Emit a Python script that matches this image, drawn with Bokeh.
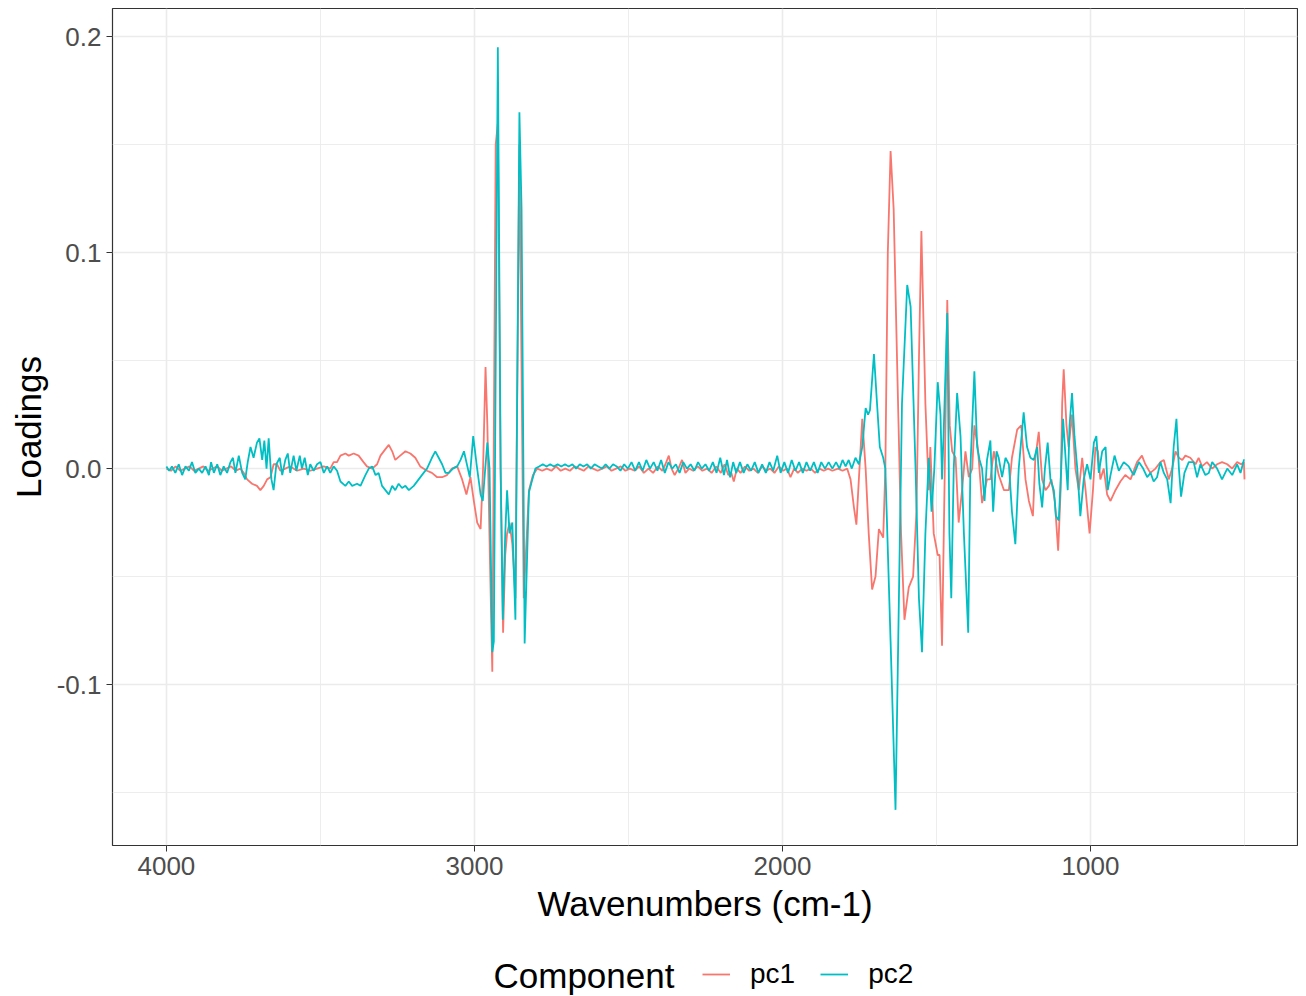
from bokeh.plotting import figure
from bokeh.models import Range1d, FixedTicker, PrintfTickFormatter, Legend, LegendItem, Label
from bokeh.layouts import column
from bokeh.embed import file_html
from bokeh.resources import INLINE

pc2_wn = [4000, 3991, 3982, 3971, 3960, 3949, 3938, 3927, 3917, 3906, 3895, 3884, 3873, 3862, 3855, 3846,
          3835, 3825, 3814, 3803, 3792, 3784, 3776, 3765, 3754, 3744, 3736, 3727, 3717, 3706, 3698, 3689,
          3682, 3675, 3668, 3659, 3652, 3643, 3632, 3624, 3614, 3606, 3598, 3587, 3578, 3567, 3560, 3551,
          3541, 3533, 3522, 3511, 3500, 3489, 3478, 3468, 3457, 3446, 3435, 3419, 3408, 3397, 3381, 3370,
          3354, 3343, 3332, 3321, 3311, 3300, 3289, 3278, 3267, 3257, 3246, 3235, 3224, 3213, 3197, 3181,
          3165, 3154, 3138, 3127, 3116, 3105, 3094, 3083, 3070, 3056, 3045, 3034, 3023, 3015, 3004, 2993,
          2980, 2973, 2965, 2958, 2951, 2942, 2937, 2924, 2915, 2908, 2900, 2894, 2886, 2877, 2867, 2854,
          2847, 2837, 2823, 2812, 2802, 2790,
          2778, 2766, 2754, 2742, 2730, 2718, 2706, 2694, 2682, 2670, 2658, 2646, 2634, 2622, 2610, 2598,
          2586, 2574, 2562, 2550, 2538, 2526, 2514, 2502, 2490, 2478, 2466, 2454, 2442, 2430, 2418, 2406,
          2394, 2382, 2370, 2358, 2346, 2334, 2322, 2310, 2298, 2286, 2274, 2262, 2250, 2238, 2226, 2214,
          2202, 2190, 2180, 2170, 2160, 2150, 2138, 2126, 2114, 2102, 2090, 2078, 2066, 2054, 2042, 2030,
          2017, 2006, 1994, 1982, 1970, 1958, 1946, 1934, 1922, 1910, 1898, 1886, 1874, 1862, 1850,
          1838, 1826, 1815, 1805, 1795, 1785, 1775, 1763, 1752, 1741, 1730, 1722, 1716, 1703, 1693, 1684,
          1673, 1666, 1649, 1633, 1622, 1612, 1595, 1584, 1568, 1557, 1547, 1536, 1525, 1516, 1507, 1496,
          1487, 1482, 1476, 1465, 1458, 1452, 1444, 1433, 1422, 1411, 1397, 1390, 1377, 1368, 1360, 1352,
          1344, 1336, 1325, 1316, 1305, 1298, 1287, 1276, 1265, 1255, 1244, 1233, 1217, 1206, 1195, 1184,
          1173, 1166, 1157, 1148, 1139, 1130, 1119, 1112, 1103, 1095, 1089, 1081, 1074, 1068, 1060, 1052,
          1043, 1033, 1022, 1011, 1000, 989, 981, 973, 962, 951, 944, 935, 922, 908, 892, 876,
          860, 843, 829, 816, 805, 795, 784, 773, 762, 751, 740, 730, 721, 713, 706, 695,
          681, 665, 654, 643, 627, 616, 605, 589, 573, 556, 540, 524, 513, 502, 500]
pc2_val = [0.001, -0.001, 0.001, -0.002, 0.002, -0.003, 0.001, -0.001, 0.003, -0.002, 0.000, -0.002, 0.001, -0.003, 0.003, -0.002,
           0.002, -0.003, 0.001, -0.002, 0.003, 0.005, -0.002, 0.006, -0.002, -0.005, 0.003, 0.010, 0.005, 0.012, 0.014, 0.004,
           0.013, 0.000, 0.014, -0.005, -0.010, 0.002, 0.005, -0.003, 0.004, 0.007, -0.002, 0.006, -0.001, 0.006, 0.000, 0.005,
           -0.003, 0.002, -0.001, 0.002, 0.003, -0.002, 0.001, -0.002, 0.001, -0.001, -0.006, -0.008, -0.006, -0.008, -0.007, -0.008,
           -0.003, 0.000, 0.001, -0.003, -0.002, -0.008, -0.010, -0.012, -0.008, -0.010, -0.007, -0.009, -0.008, -0.010, -0.008, -0.005,
           -0.002, 0.000, 0.005, 0.008, 0.005, 0.002, -0.002, -0.002, 0.000, 0.001, 0.004, 0.008, 0.001, -0.004, 0.015, 0.002,
           -0.012, -0.015, 0.000, 0.012, 0.000, -0.085, -0.080, 0.195, 0.000, -0.070, -0.030, -0.010, -0.030, -0.025, -0.070, 0.165,
           0.120, -0.081, -0.011, -0.005, 0.000, 0.001,
           0.002, 0.001, 0.002, 0.001, 0.002, 0.001, 0.002, 0.001, 0.002, 0.000, 0.002, 0.001, 0.002, 0.000, 0.002, 0.001,
           0.000, 0.002, 0.000, 0.002, 0.001, -0.001, 0.002, 0.000, 0.003, -0.001, 0.003, -0.001, 0.004, 0.000, 0.003, -0.001,
           0.004, -0.002, 0.003, 0.000, 0.002, -0.002, 0.003, 0.000, 0.002, -0.001, 0.003, 0.000, 0.002, -0.001, 0.003, -0.002,
           0.005, -0.003, 0.004, -0.004, 0.003, -0.002, 0.003, -0.002, 0.002, -0.001, 0.003, -0.002, 0.002, -0.002, 0.003, -0.001,
           0.006, -0.002, 0.003, -0.002, 0.004, -0.001, 0.003, -0.002, 0.003, -0.001, 0.003, -0.002, 0.003, 0.000, 0.003,
           0.000, 0.003, 0.000, 0.004, 0.001, 0.004, 0.000, 0.005, 0.002, 0.010, 0.028, 0.025, 0.027, 0.053, 0.030, 0.010,
           0.005, 0.000, -0.080, -0.158, -0.060, 0.030, 0.085, 0.075, 0.000, -0.060, -0.085, -0.030, 0.005, -0.020, 0.000, 0.040,
           0.025, -0.005, 0.020, 0.072, -0.030, -0.060, 0.000, 0.035, 0.015, -0.030, -0.076, 0.000, 0.045, 0.010, 0.004, 0.000,
           -0.015, 0.004, 0.013, -0.020, 0.008, 0.005, -0.004, 0.005, 0.002, -0.020, -0.035, 0.000, 0.026, 0.010, 0.005, 0.004,
           0.010, -0.007, -0.018, 0.000, 0.012, -0.005, -0.010, -0.022, -0.024, 0.000, 0.023, 0.005, -0.010, 0.020, 0.035, 0.015,
           0.000, -0.022, -0.005, 0.002, -0.005, 0.012, 0.015, -0.002, 0.008, 0.010, -0.010, -0.003, 0.006, -0.001, 0.003, 0.001,
           -0.003, 0.003, 0.000, -0.004, -0.002, -0.006, -0.004, 0.003, -0.002, -0.005, -0.016, 0.010, 0.023, 0.000, -0.013, -0.002,
           0.003, 0.003, -0.004, 0.002, -0.003, -0.002, 0.003, 0.000, -0.005, 0.000, -0.003, 0.002, -0.002, 0.004, 0.004]

pc1_wn = [4000, 3985, 3970, 3955, 3940, 3925, 3910, 3895, 3880, 3865, 3850, 3835, 3820, 3805, 3790, 3775,
          3760, 3749, 3738, 3722, 3706, 3695, 3684, 3673, 3662, 3652, 3641, 3630, 3614, 3598, 3576, 3554,
          3533, 3511, 3489, 3468, 3457, 3446, 3435, 3419, 3408, 3392, 3376, 3360, 3349, 3332, 3316, 3305,
          3289, 3278, 3267, 3257, 3241, 3224, 3208, 3192, 3176, 3154, 3138, 3121, 3105, 3089, 3073, 3056,
          3040, 3026, 3013, 3002, 2991, 2980, 2972, 2964, 2958, 2950, 2942, 2931, 2924, 2915, 2907, 2900,
          2894, 2886, 2877, 2867, 2854, 2840, 2823, 2810, 2796,
          2780, 2765, 2750, 2735, 2720, 2705, 2690, 2675, 2660, 2645, 2630, 2615, 2600, 2585, 2570, 2555,
          2540, 2525, 2510, 2495, 2480, 2465, 2450, 2435, 2420, 2405, 2390, 2380, 2369, 2360, 2350, 2338,
          2326, 2315, 2303, 2290, 2275, 2260, 2245, 2230, 2215, 2200, 2188, 2176, 2166, 2158, 2148, 2136,
          2122, 2108, 2094, 2080, 2066, 2052, 2040, 2026, 2012, 1998, 1985, 1974, 1962, 1950, 1936, 1922,
          1908, 1894, 1880, 1866, 1852, 1838, 1820, 1805, 1790, 1779, 1768, 1760, 1752, 1741, 1730, 1720,
          1709, 1698, 1687, 1673, 1666, 1658, 1649, 1639, 1628, 1615, 1604, 1590, 1576, 1565, 1557, 1549,
          1536, 1525, 1520, 1509, 1496, 1490, 1482, 1473, 1465, 1457, 1449, 1438, 1428, 1417, 1406, 1395,
          1384, 1377, 1366, 1352, 1336, 1325, 1314, 1298, 1281, 1265, 1255, 1238, 1225, 1211, 1200, 1187,
          1179, 1168, 1157, 1146, 1135, 1127, 1116, 1105, 1097, 1092, 1087, 1078, 1071, 1060, 1049, 1038,
          1027, 1016, 1003, 992, 984, 976, 968, 957, 946, 935, 919, 903, 887, 870, 849, 833,
          822, 806, 789, 773, 762, 746, 735, 724, 713, 702, 692, 676, 659, 649, 638, 622,
          605, 589, 573, 556, 540, 524, 511, 502, 500]
pc1_val = [0.000, -0.001, 0.001, -0.001, 0.000, 0.001, -0.001, 0.000, 0.001, -0.001, 0.000, 0.001, -0.001, 0.000, 0.001, -0.001,
           0.000, -0.002, -0.005, -0.007, -0.008, -0.010, -0.008, -0.005, -0.004, 0.002, 0.002, -0.001, 0.000, 0.001, -0.001, 0.000,
           -0.001, 0.000, 0.001, 0.000, 0.003, 0.003, 0.006, 0.007, 0.006, 0.007, 0.006, 0.003, 0.001, 0.000, 0.002, 0.006,
           0.009, 0.011, 0.008, 0.004, 0.006, 0.008, 0.007, 0.005, 0.001, -0.001, -0.002, -0.004, -0.004, -0.003, 0.000, 0.001,
           -0.005, -0.012, -0.004, -0.015, -0.025, -0.028, 0.000, 0.047, 0.020, -0.040, -0.094, 0.150, 0.160, 0.000, -0.076, -0.040,
           -0.030, -0.025, -0.035, -0.060, 0.150, -0.060, -0.010, -0.003, 0.000,
           -0.001, 0.000, -0.001, 0.001, -0.001, 0.000, -0.001, 0.001, 0.000, -0.001, 0.001, 0.000, -0.001, 0.000, 0.001, -0.001,
           0.000, 0.001, -0.001, 0.000, -0.001, 0.001, -0.002, 0.000, -0.002, 0.001, -0.001, 0.002, 0.006, 0.000, -0.003, 0.000,
           0.004, -0.002, 0.000, -0.001, 0.001, -0.001, 0.000, -0.002, 0.001, -0.002, 0.002, -0.003, -0.002, -0.006, 0.000, -0.002,
           0.001, -0.001, 0.000, -0.002, 0.001, -0.001, 0.000, -0.002, 0.001, -0.001, 0.000, -0.004, 0.000, -0.002, 0.000, -0.001,
           0.000, -0.002, 0.000, -0.001, 0.000, -0.001, 0.000, -0.001, 0.000, -0.005, -0.018, -0.026, -0.005, 0.023, 0.000, -0.030,
           -0.056, -0.050, -0.028, -0.032, 0.000, 0.100, 0.147, 0.120, 0.050, -0.030, -0.070, -0.055, -0.050, -0.020, 0.050, 0.110,
           0.030, -0.010, 0.010, -0.030, -0.040, -0.040, -0.082, 0.000, 0.078, 0.020, 0.008, 0.005, -0.025, -0.010, 0.008, -0.004,
           0.000, 0.020, 0.010, -0.016, -0.005, -0.005, 0.008, -0.003, -0.010, -0.010, 0.005, 0.018, 0.020, -0.005, -0.015, -0.022,
           0.005, 0.017, -0.005, -0.010, -0.008, -0.005, -0.015, -0.038, -0.010, 0.030, 0.046, 0.020, 0.010, 0.025, 0.000, -0.010,
           0.005, -0.010, -0.030, -0.010, 0.010, 0.008, -0.005, 0.000, -0.012, -0.015, -0.010, -0.006, -0.003, -0.005, 0.003, 0.006,
           0.002, -0.002, 0.000, 0.003, 0.004, -0.005, 0.000, 0.008, 0.005, 0.004, 0.006, 0.005, 0.002, 0.005, 0.001, 0.003,
           0.000, 0.002, 0.003, 0.002, 0.000, 0.003, 0.002, 0.003, -0.005]

x_ticks = [4000, 3000, 2000, 1000]
x_minor = [3500, 2500, 1500, 500]
y_ticks = [-0.1, 0.0, 0.1, 0.2]
y_minor = [-0.15, -0.05, 0.05, 0.15]
series_names = ["pc1", "pc2"]
series_colors = ["#F8766D", "#00BFC4"]
legend_title = "Component"

FONT = "Liberation Sans"
W = 1298

p = figure(width=W, height=937, output_backend="svg", toolbar_location=None,
           x_range=Range1d(4175, 328), y_range=Range1d(-0.1745, 0.213),
           min_border_left=112, min_border_right=1, min_border_top=8, min_border_bottom=92,
           frame_align=False)

p.line(pc1_wn, pc1_val, line_color=series_colors[0], line_width=1.8)
p.line(pc2_wn, pc2_val, line_color=series_colors[1], line_width=1.8)

p.xaxis.ticker = FixedTicker(ticks=x_ticks, minor_ticks=x_minor)
p.yaxis.ticker = FixedTicker(ticks=y_ticks, minor_ticks=y_minor)
p.yaxis.formatter = PrintfTickFormatter(format="%.1f")

for ax in (p.xaxis[0], p.yaxis[0]):
    ax.axis_line_color = None
    ax.major_tick_line_color = "#333333"
    ax.major_tick_in = 0
    ax.major_tick_out = 6
    ax.minor_tick_line_color = None
    ax.major_label_text_font = FONT
    ax.major_label_text_font_size = "26px"
    ax.major_label_text_color = "#4D4D4D"
    ax.axis_label_text_font = FONT
    ax.axis_label_text_font_size = "35px"
    ax.axis_label_text_font_style = "normal"
    ax.axis_label_text_color = "black"
    ax.major_label_standoff = 5

p.xaxis.axis_label = "Wavenumbers (cm-1)"
p.yaxis.axis_label = "Loadings"
p.xaxis.axis_label_standoff = 6
p.yaxis.axis_label_standoff = 6

for g in (p.xgrid[0], p.ygrid[0]):
    g.grid_line_color = "#EBEBEB"
    g.grid_line_width = 1.6
    g.minor_grid_line_color = "#EBEBEB"
    g.minor_grid_line_width = 0.9

p.outline_line_color = "#333333"
p.outline_line_width = 1.2
p.background_fill_color = "white"
p.border_fill_color = "white"

# legend strip below the chart
LH = 59
leg = figure(width=W, height=LH, output_backend="svg", toolbar_location=None,
             x_range=Range1d(0, W), y_range=Range1d(0, LH),
             x_axis_type=None, y_axis_type=None, frame_align=False,
             min_border_left=0, min_border_right=0, min_border_top=0, min_border_bottom=0)
leg.grid.visible = False
leg.outline_line_color = None
leg.background_fill_color = "white"
leg.border_fill_color = "white"

nan = float("nan")
k1 = leg.line([nan], [nan], line_color=series_colors[0], line_width=1.8)
k2 = leg.line([nan], [nan], line_color=series_colors[1], line_width=1.8)

legend = Legend(items=[LegendItem(label=series_names[0], renderers=[k1]),
                       LegendItem(label=series_names[1], renderers=[k2])],
                orientation="horizontal", location=(702, 6))
legend.label_text_font = FONT
legend.label_text_font_size = "28px"
legend.label_text_color = "black"
legend.glyph_width = 28
legend.glyph_height = 30
legend.label_height = 30
legend.label_standoff = 20
legend.spacing = 25
legend.border_line_color = None
legend.background_fill_alpha = 0
legend.margin = 0
legend.padding = 0
leg.add_layout(legend, "center")

leg.add_layout(Label(x=493, y=21, x_units="screen", y_units="screen", text=legend_title,
                     text_font=FONT, text_font_size="35px",
                     text_color="black", text_baseline="middle", text_align="left"))

layout = column(p, leg, spacing=0)
open("out.html", "w").write(file_html(layout, INLINE))
